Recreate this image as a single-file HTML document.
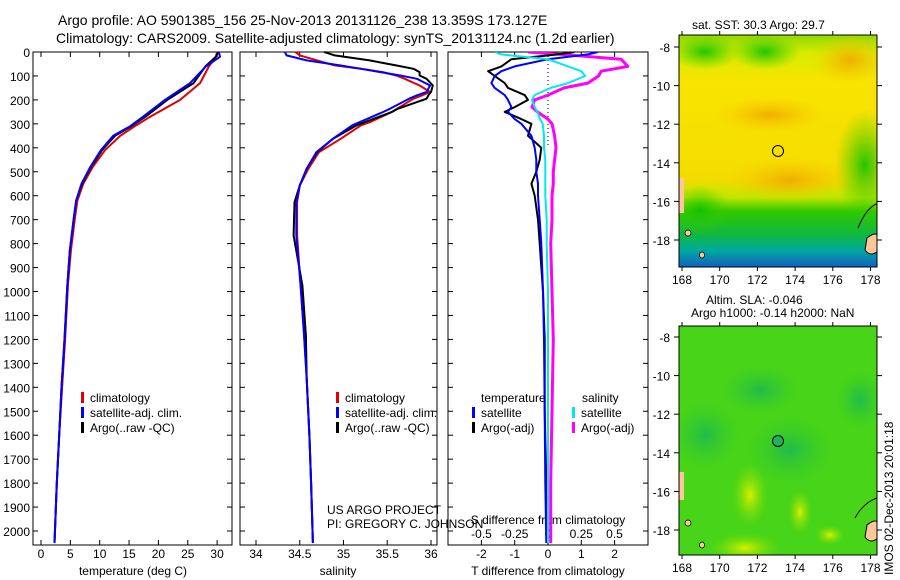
<!DOCTYPE html>
<html><head><meta charset="utf-8">
<style>
html,body{margin:0;padding:0;background:#fff;}
svg{display:block;font-family:"Liberation Sans",sans-serif;}
</style></head>
<body>
<svg id="chart" width="900" height="580" viewBox="0 0 900 580" xmlns="http://www.w3.org/2000/svg">
<defs>
  <linearGradient id="sstg" x1="0" y1="0" x2="0" y2="1">
    <stop offset="0" stop-color="#90d800"/>
    <stop offset="0.08" stop-color="#d8ec00"/>
    <stop offset="0.2" stop-color="#f8e400"/>
    <stop offset="0.62" stop-color="#f4dc00"/>
    <stop offset="0.7" stop-color="#c0e600"/>
    <stop offset="0.76" stop-color="#30c800"/>
    <stop offset="0.86" stop-color="#10b840"/>
    <stop offset="0.93" stop-color="#00a8a0"/>
    <stop offset="1" stop-color="#1060c0"/>
  </linearGradient>
  <radialGradient id="org" cx="0.5" cy="0.5" r="0.5">
    <stop offset="0" stop-color="#f0a800" stop-opacity="0.9"/>
    <stop offset="1" stop-color="#f8c800" stop-opacity="0"/>
  </radialGradient>
  <radialGradient id="grn" cx="0.5" cy="0.5" r="0.5">
    <stop offset="0" stop-color="#10c000" stop-opacity="0.9"/>
    <stop offset="1" stop-color="#40d000" stop-opacity="0"/>
  </radialGradient>
  <radialGradient id="ylw" cx="0.5" cy="0.5" r="0.5">
    <stop offset="0" stop-color="#d8f000" stop-opacity="1"/>
    <stop offset="1" stop-color="#80e000" stop-opacity="0"/>
  </radialGradient>
  <radialGradient id="dgr" cx="0.5" cy="0.5" r="0.5">
    <stop offset="0" stop-color="#10b060" stop-opacity="0.7"/>
    <stop offset="1" stop-color="#30c830" stop-opacity="0"/>
  </radialGradient>
  <clipPath id="m1c"><rect x="679" y="35" width="198" height="232"/></clipPath>
  <clipPath id="m2c"><rect x="679" y="326" width="198" height="229"/></clipPath>
  <clipPath id="p3c"><rect x="448" y="52" width="200" height="493"/></clipPath>
</defs>

<text x="58" y="25" font-size="14">Argo profile: AO 5901385_156 25-Nov-2013 20131126_238 13.359S 173.127E</text>
<text x="56" y="43" font-size="14">Climatology: CARS2009. Satellite-adjusted climatology: synTS_20131124.nc (1.2d earlier)</text>

<g id="panels"></g>

<g>
  <text x="692" y="29" font-size="12">sat. SST: 30.3  Argo: 29.7</text>
  <g clip-path="url(#m1c)">
    <rect x="679" y="35" width="198" height="232" fill="url(#sstg)"/>
    <ellipse cx="705" cy="52" rx="35" ry="18" fill="url(#grn)"/>
    <ellipse cx="765" cy="52" rx="35" ry="18" fill="url(#grn)"/>
    <ellipse cx="850" cy="60" rx="40" ry="25" fill="url(#org)"/>
    <ellipse cx="790" cy="180" rx="65" ry="22" fill="url(#org)"/>
    <ellipse cx="770" cy="115" rx="55" ry="18" fill="url(#org)"/>
    <ellipse cx="865" cy="165" rx="30" ry="55" fill="url(#grn)"/>
    <ellipse cx="700" cy="210" rx="30" ry="25" fill="url(#grn)"/>
    <path d="M867 238 q10 -8 12 0 v12 q-8 8 -14 0z" fill="#fcc898" stroke="#000" stroke-width="1"/>
    <path d="M858 228 q8 -20 20 -25" fill="none" stroke="#000"/>
    <rect x="679" y="178" width="5" height="35" fill="#fcc898"/>
    <ellipse cx="688" cy="233" rx="3" ry="3" fill="#fcc898" stroke="#000" stroke-width="0.7"/>
    <ellipse cx="702" cy="255" rx="2.5" ry="3" fill="#fcc898" stroke="#000" stroke-width="0.7"/>
  </g>
  <rect x="679" y="35" width="198" height="232" fill="none" stroke="#000"/>
  <circle cx="778" cy="151" r="5.5" fill="none" stroke="#000"/>
  <g id="m1ticks"></g>
</g>

<g>
  <text x="706" y="304" font-size="12">Altim. SLA: -0.046</text>
  <text x="691" y="317" font-size="12">Argo h1000: -0.14 h2000: NaN</text>
  <g clip-path="url(#m2c)">
    <rect x="679" y="326" width="198" height="229" fill="#48d418"/>
    <ellipse cx="860" cy="400" rx="25" ry="30" fill="url(#dgr)"/>
    <ellipse cx="705" cy="435" rx="35" ry="35" fill="url(#dgr)"/>
    <ellipse cx="790" cy="450" rx="45" ry="35" fill="url(#dgr)"/>
    <ellipse cx="760" cy="390" rx="40" ry="25" fill="url(#dgr)"/>
    <ellipse cx="750" cy="495" rx="18" ry="32" fill="url(#ylw)"/>
    <ellipse cx="800" cy="512" rx="12" ry="22" fill="url(#ylw)"/>
    <ellipse cx="745" cy="548" rx="35" ry="15" fill="url(#ylw)"/>
    <ellipse cx="830" cy="535" rx="15" ry="10" fill="url(#ylw)"/>
    <path d="M867 525 q10 -8 12 0 v12 q-8 8 -14 0z" fill="#fcc898" stroke="#000" stroke-width="1"/>
    <path d="M855 518 q8 -15 22 -20" fill="none" stroke="#000"/>
    <rect x="679" y="472" width="5" height="28" fill="#fcc898"/>
    <ellipse cx="688" cy="523" rx="3" ry="3" fill="#fcc898" stroke="#000" stroke-width="0.7"/>
    <ellipse cx="702" cy="545" rx="2.5" ry="3" fill="#fcc898" stroke="#000" stroke-width="0.7"/>
  </g>
  <rect x="679" y="326" width="198" height="229" fill="none" stroke="#000"/>
  <circle cx="778" cy="441" r="5.5" fill="#20b060" stroke="#000"/>
  <g id="m2ticks"></g>
</g>
<text transform="translate(893,575) rotate(-90)" font-size="12">IMOS 02-Dec-2013 20:01:18</text>
<text x="327" y="514" font-size="12">US ARGO PROJECT</text>
<text x="327" y="528" font-size="12">PI: GREGORY C. JOHNSON</text>
</svg>

<script>
// ---------- data ----------
const depthT = [0,20,60,130,200,270,310,350,410,480,550,620,690,830,970,1200,1400,1600,1800,2050];
const tempClim = [30,29.8,28.6,27.1,23.7,18.6,16,13.5,10.9,8.8,7.2,6.2,5.8,5.1,4.6,4.1,3.6,3.1,2.7,2.3];
const tempSat  = [30.3,30.5,28.1,25.4,21.1,17.4,15.2,12.3,10.2,8.4,6.9,6.0,5.6,4.9,4.5,4.0,3.5,3.1,2.7,2.3];
const tempArgo = [30.2,29.8,28.0,26.0,21.5,17.8,15.4,12.6,10.4,8.5,7.0,6.0,5.6,4.9,4.5,4.0,3.5,3.1,2.7,2.3];

const depthS = [0,14,35,56,70,84,98,112,140,167,181,195,237,251,292,306,362,418,487,557,627,766,975,1184,1365,1600,1800,2050];
const salClim = [34.45,34.5,34.7,34.9,35.2,35.45,35.6,35.7,35.87,35.99,35.9,35.8,35.61,35.55,35.31,35.2,34.97,34.72,34.6,34.5,34.47,34.47,34.51,34.55,34.58,34.61,34.63,34.65];
const salSat  = [34.33,34.35,34.58,34.96,35.2,35.42,35.65,35.84,35.99,35.95,35.84,35.75,35.53,35.45,35.19,35.1,34.88,34.69,34.58,34.50,34.46,34.46,34.51,34.55,34.58,34.61,34.63,34.65];
const salArgo = [34.78,34.9,35.3,35.6,35.8,35.87,35.87,35.95,36.02,36.0,35.97,35.95,35.62,35.55,35.25,35.15,34.88,34.7,34.58,34.5,34.44,34.43,34.53,34.57,34.58,34.61,34.63,34.65];

const depthD = [0,10,30,60,80,100,130,150,180,200,230,250,280,300,350,400,450,500,550,600,700,800,1000,1200,1500,1800,2050];
const tDiffSat  = [1.5,1.2,0,-1.0,-1.4,-1.6,-1.7,-1.6,-1.3,-1.2,-1.1,-1.2,-1.0,-0.8,-0.5,-0.4,-0.35,-0.35,-0.3,-0.3,-0.25,-0.2,-0.15,-0.12,-0.1,-0.08,-0.05];
const tDiffArgo = [0.8,0.3,-1.1,-1.4,-1.8,-1.6,-1.3,-1.2,-0.7,-0.6,-1.0,-1.3,-0.8,-0.5,-0.6,-0.2,-0.25,-0.35,-0.5,-0.4,-0.3,-0.25,-0.15,-0.1,-0.1,-0.05,-0.03];
const sDiffSat  = [-0.4,-0.35,0.0,0.15,0.25,0.28,0.15,0.02,-0.1,-0.12,-0.1,-0.08,-0.06,-0.04,-0.03,-0.03,-0.02,-0.02,-0.02,-0.02,-0.01,-0.01,0,0,0,0,0];
const sDiffArgo = [-0.15,0.1,0.55,0.6,0.4,0.38,0.3,0.12,0.0,-0.1,-0.12,-0.08,0.0,0.03,0.05,0.06,0.05,0.04,0.04,0.03,0.03,0.02,0.03,0.04,0.03,0.02,0.02];

const depthTicks = [0,100,200,300,400,500,600,700,800,900,1000,1100,1200,1300,1400,1500,1600,1700,1800,1900,2000];
const tempTicks = [0,5,10,15,20,25,30];
const salTicks = [34,34.5,35,35.5,36];
const tDiffTicks = [-2,-1,0,1,2];
const sDiffTicks = [-0.5,-0.25,0,0.25,0.5];
const latTicks = [-8,-10,-12,-14,-16,-18];
const lonTicks = [168,170,172,174,176,178];

// ---------- axes ----------
const NS = 'http://www.w3.org/2000/svg';
const panels = document.getElementById('panels');
const TOP = 52, BOT = 545;
const yD = d => TOP + d * 0.2395;
const xT = v => 41 + v * 5.87;
const xS = v => 256 + (v - 34) * 87.5;
const xTD = v => 548 + v * 33.3;
const xSD = v => 548 + v * 133;

function mk(tag, attrs, parent) {
  const e = document.createElementNS(NS, tag);
  for (const k in attrs) e.setAttribute(k, attrs[k]);
  (parent || panels).appendChild(e);
  return e;
}
function line(xs, ds, xf, color, w, name, clip) {
  let d = '';
  for (let i = 0; i < xs.length; i++) d += (i ? 'L' : 'M') + xf(xs[i]).toFixed(1) + ' ' + yD(ds[i]).toFixed(1);
  const p = mk('path', {d: d, fill: 'none', stroke: color, 'stroke-width': w, 'stroke-linejoin': 'round'});
  if (clip) p.setAttribute('clip-path', clip);
  
  
}
function frame(x0, x1, name) {
  const r = mk('rect', {x: x0, y: TOP, width: x1 - x0, height: BOT - TOP, fill: 'none', stroke: '#000', 'stroke-width': 1});
  
  
}
function xTicks(vals, xf, labelY, name) {
  vals.forEach(v => {
    const x = xf(v);
    mk('line', {x1: x, x2: x, y1: BOT, y2: BOT - 5, stroke: '#000'});
    mk('line', {x1: x, x2: x, y1: TOP, y2: TOP + 5, stroke: '#000'});
    const t = mk('text', {x: x, y: labelY, 'font-size': 12, 'text-anchor': 'middle'});
    t.textContent = v;
    
    
  });
}
function yTickMarks(x0, x1) {
  depthTicks.forEach(d => {
    mk('line', {x1: x0, x2: x0 + 5, y1: yD(d), y2: yD(d), stroke: '#000'});
    mk('line', {x1: x1, x2: x1 - 5, y1: yD(d), y2: yD(d), stroke: '#000'});
  });
}
function label(x, y, txt, name, anchor) {
  const t = mk('text', {x: x, y: y, 'font-size': 12, 'text-anchor': anchor || 'start'});
  t.textContent = txt;
  
  
}
function legendEntry(x, y, color, txt, name) {
  mk('rect', {x: x, y: y - 10, width: 3, height: 11, fill: color});
  const t = mk('text', {x: x + 9, y: y, 'font-size': 12});
  t.textContent = txt;
  
  
}

// Panel 1: temperature
frame(33, 232, 'temperature-panel');
yTickMarks(33, 232);
depthTicks.forEach(d => label(30, yD(d) + 5, d, 'depth-tick-label', 'end'));
xTicks(tempTicks, xT, 558, 'temperature-tick-label');
label(133, 575, 'temperature (deg C)', 'temperature-axis-title', 'middle');
line(tempClim, depthT, xT, '#e00000', 2, 'temperature-climatology-line');
line(tempArgo, depthT, xT, '#000', 2, 'temperature-argo-line');
line(tempSat, depthT, xT, '#0000ff', 2, 'temperature-satellite-line');
legendEntry(81, 402, '#e00000', 'climatology', 'legend-climatology');
legendEntry(81, 417, '#0000ff', 'satellite-adj. clim.', 'legend-satellite');
legendEntry(81, 432, '#000', 'Argo(..raw -QC)', 'legend-argo');

// Panel 2: salinity
frame(240, 437, 'salinity-panel');
yTickMarks(240, 437);
xTicks(salTicks, xS, 558, 'salinity-tick-label');
label(338, 575, 'salinity', 'salinity-axis-title', 'middle');
line(salClim, depthS, xS, '#e00000', 2, 'salinity-climatology-line');
line(salArgo, depthS, xS, '#000', 2, 'salinity-argo-line');
line(salSat, depthS, xS, '#0000ff', 2, 'salinity-satellite-line');
legendEntry(336, 402, '#e00000', 'climatology', 'legend-climatology-2');
legendEntry(336, 417, '#0000ff', 'satellite-adj. clim.', 'legend-satellite-2');
legendEntry(336, 432, '#000', 'Argo(..raw -QC)', 'legend-argo-2');

// Panel 3: differences
frame(448, 648, 'difference-panel');
yTickMarks(448, 648);
mk('line', {x1: 548, x2: 548, y1: TOP, y2: yD(400), stroke: '#000', 'stroke-dasharray': '1 3'});
xTicks(tDiffTicks, xTD, 558, 't-diff-tick-label');
sDiffTicks.forEach(v => label(xSD(v), 538, v, 's-diff-tick-label', 'middle'));
label(548, 524, 'S difference from climatology', 's-diff-axis-title', 'middle');
label(548, 575, 'T difference from climatology', 't-diff-axis-title', 'middle');
line(sDiffArgo, depthD, xSD, '#ff00ff', 3, 's-diff-argo-line', 'url(#p3c)');
line(tDiffArgo, depthD, xTD, '#000', 2, 't-diff-argo-line', 'url(#p3c)');
line(tDiffSat, depthD, xTD, '#0000ff', 2, 't-diff-satellite-line', 'url(#p3c)');
line(sDiffSat, depthD, xSD, '#00e8f0', 2, 's-diff-satellite-line', 'url(#p3c)');
label(481, 402, 'temperature', 'legend-temperature-header');
label(582, 402, 'salinity', 'legend-salinity-header');
legendEntry(472, 417, '#0000ff', 'satellite', 'legend-t-satellite');
legendEntry(472, 432, '#000', 'Argo(-adj)', 'legend-t-argo');
legendEntry(572, 417, '#00e8f0', 'satellite', 'legend-s-satellite');
legendEntry(572, 432, '#ff00ff', 'Argo(-adj)', 'legend-s-argo');

// Map ticks
function mapTicks(g, y0, y1, latY, lonX) {
  const grp = document.getElementById(g);
  latTicks.forEach(v => {
    const y = latY(v);
    mk('line', {x1: 877, x2: 882, y1: y, y2: y, stroke: '#000'}, grp);
    mk('line', {x1: 674, x2: 679, y1: y, y2: y, stroke: '#000'}, grp);
    const t = mk('text', {x: 670, y: y + 5, 'font-size': 12, 'text-anchor': 'end'}, grp);
    t.textContent = v;
    
    
  });
  lonTicks.forEach(v => {
    const x = lonX(v);
    mk('line', {x1: x, x2: x, y1: y0 - 4, y2: y0, stroke: '#000'}, grp);
    mk('line', {x1: x, x2: x, y1: y1, y2: y1 + 4, stroke: '#000'}, grp);
    const t = mk('text', {x: x, y: y1 + 17, 'font-size': 12, 'text-anchor': 'middle'}, grp);
    t.textContent = v;
    
    
  });
}
const lonX = v => 682 + (v - 168) * 18.85;
mapTicks('m1ticks', 35, 267, v => 47 + (-8 - v) * 19.3, lonX);
mapTicks('m2ticks', 326, 555, v => 337 + (-8 - v) * 19.3, lonX);
</script>
</body></html>
